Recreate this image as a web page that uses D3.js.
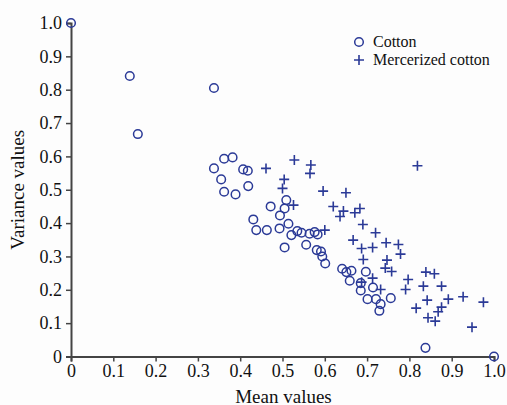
<!DOCTYPE html>
<html>
<head>
<meta charset="utf-8">
<script src="https://cdn.jsdelivr.net/npm/d3@7"></script>
<style>
  body { margin: 0; background: #fdfdfd; }
  svg { display: block; }
  text { font-family: "Liberation Serif", "Times New Roman", serif; fill: #111; }
</style>
</head>
<body>
<svg></svg>
<script>
// Cotton (circles)
const cottonMean = [0, 0.139, 0.158, 0.338, 0.338, 0.362, 0.382, 0.407, 0.418, 0.355,
  0.362, 0.389, 0.419, 0.472, 0.509, 0.505, 0.494, 0.431, 0.438, 0.463,
  0.493, 0.514, 0.521, 0.535, 0.545, 0.564, 0.576, 0.583, 0.505, 0.556,
  0.581, 0.591, 0.594, 0.601, 0.641, 0.651, 0.663, 0.697, 0.659, 0.685,
  0.685, 0.714, 0.701, 0.721, 0.732, 0.729, 0.756, 0.838, 1.0];
const cottonVar = [1.0, 0.841, 0.667, 0.805, 0.564, 0.593, 0.597, 0.561, 0.557, 0.531,
  0.494, 0.486, 0.511, 0.450, 0.469, 0.444, 0.423, 0.411, 0.379, 0.379,
  0.384, 0.398, 0.364, 0.376, 0.371, 0.368, 0.373, 0.366, 0.327, 0.335,
  0.319, 0.315, 0.300, 0.279, 0.263, 0.253, 0.257, 0.254, 0.227, 0.220,
  0.198, 0.207, 0.172, 0.172, 0.157, 0.137, 0.175, 0.026, 0.0];

// Mercerized cotton (crosses)
const mercMean = [0.461, 0.528, 0.567, 0.565, 0.504, 0.500, 0.526, 0.596, 0.620, 0.650,
  0.644, 0.636, 0.600, 0.671, 0.683, 0.690, 0.720, 0.819, 0.667, 0.687,
  0.713, 0.745, 0.774, 0.779, 0.691, 0.747, 0.743, 0.758, 0.713, 0.687,
  0.732, 0.797, 0.791, 0.839, 0.859, 0.833, 0.876, 0.842, 0.816, 0.892,
  0.927, 0.975, 0.876, 0.868, 0.844, 0.861, 0.948];
const mercVar = [0.564, 0.589, 0.574, 0.549, 0.531, 0.504, 0.454, 0.496, 0.450, 0.491,
  0.436, 0.420, 0.379, 0.431, 0.444, 0.396, 0.371, 0.572, 0.349, 0.324,
  0.327, 0.341, 0.336, 0.307, 0.291, 0.289, 0.265, 0.255, 0.235, 0.223,
  0.201, 0.231, 0.201, 0.253, 0.248, 0.211, 0.211, 0.169, 0.145, 0.172,
  0.179, 0.163, 0.148, 0.134, 0.116, 0.106, 0.088];

const xTicks = [0, 0.1, 0.2, 0.3, 0.4, 0.5, 0.6, 0.7, 0.8, 0.9, 1.0];
const yTicks = [0, 0.1, 0.2, 0.3, 0.4, 0.5, 0.6, 0.7, 0.8, 0.9, 1.0];
const seriesNames = ["Cotton", "Mercerized cotton"];

const width = 507, height = 405;
const margin = { left: 71, right: 13, top: 23, bottom: 48.5 };
const color = "#2b3a97";

const svg = d3.select("svg").attr("width", width).attr("height", height);

const x = d3.scaleLinear().domain([0, 1]).range([margin.left, width - margin.right]);
const y = d3.scaleLinear().domain([0, 1]).range([height - margin.bottom, margin.top]);

const fmt = d => d === 0 ? "0" : d3.format(".1f")(d);

// axes
const xAxis = svg.append("g")
  .attr("transform", `translate(0,${y(0)})`)
  .call(d3.axisBottom(x).tickValues(xTicks).tickFormat(fmt).tickSize(5).tickPadding(3));
const yAxis = svg.append("g")
  .attr("transform", `translate(${x(0)},0)`)
  .call(d3.axisLeft(y).tickValues(yTicks).tickFormat(fmt).tickSize(5).tickPadding(4));

[xAxis, yAxis].forEach(g => {
  g.select(".domain").attr("stroke", "#444").attr("stroke-width", 2);
  g.selectAll(".tick line").attr("stroke", "#444").attr("stroke-width", 1.5);
  g.selectAll(".tick text")
    .attr("font-family", "Liberation Serif, serif")
    .attr("font-size", 18)
    .attr("fill", "#111");
});

// axis titles
svg.append("text")
  .attr("x", (x(0) + x(1)) / 2 + 1)
  .attr("y", 403)
  .attr("text-anchor", "middle")
  .attr("font-size", 19)
  .text("Mean values");

svg.append("text")
  .attr("transform", `translate(24,${y(0.5)}) rotate(-90)`)
  .attr("text-anchor", "middle")
  .attr("font-size", 19)
  .text("Variance values");

// cotton circles
const cotton = cottonMean.map((m, i) => ({ m, v: cottonVar[i] }));
svg.append("g").selectAll("circle")
  .data(cotton)
  .join("circle")
  .attr("cx", d => x(d.m))
  .attr("cy", d => y(d.v))
  .attr("r", 4.3)
  .attr("fill", "none")
  .attr("stroke", color)
  .attr("stroke-width", 1.5);

// mercerized crosses
const merc = mercMean.map((m, i) => ({ m, v: mercVar[i] }));
const cross = "M-5,0H5M0,-5V5";
svg.append("g").selectAll("path")
  .data(merc)
  .join("path")
  .attr("transform", d => `translate(${x(d.m)},${y(d.v)})`)
  .attr("d", cross)
  .attr("fill", "none")
  .attr("stroke", color)
  .attr("stroke-width", 1.6);

// legend
const legend = svg.append("g").attr("transform", "translate(359,42)");
legend.append("circle").attr("r", 4.3).attr("fill", "none")
  .attr("stroke", color).attr("stroke-width", 1.5);
legend.append("path").attr("transform", "translate(0,18)").attr("d", cross)
  .attr("fill", "none").attr("stroke", color).attr("stroke-width", 1.6);
legend.selectAll("text")
  .data(seriesNames)
  .join("text")
  .attr("x", 14)
  .attr("y", (d, i) => i * 18 + 5)
  .attr("font-size", 16)
  .text(d => d);
</script>
</body>
</html>
